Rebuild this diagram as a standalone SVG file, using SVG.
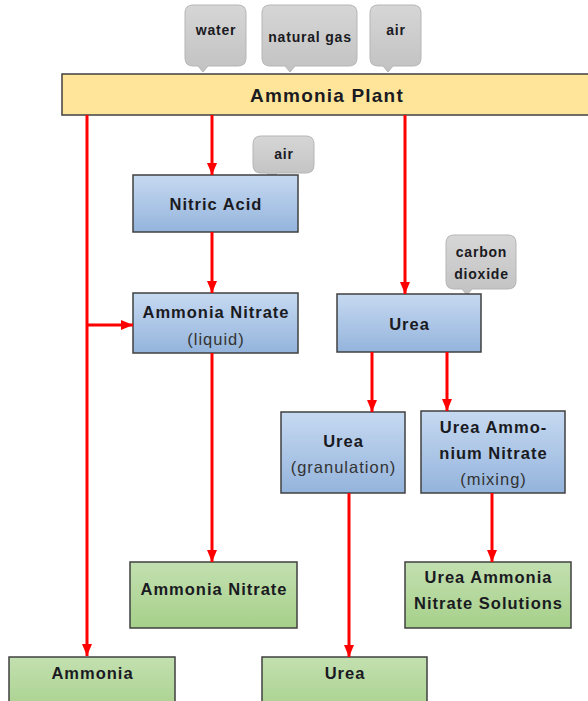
<svg xmlns="http://www.w3.org/2000/svg" width="588" height="701" viewBox="0 0 588 701">
<defs>
<linearGradient id="gBlue" x1="0" y1="0" x2="0" y2="1"><stop offset="0" stop-color="#c6d9f1"/><stop offset="1" stop-color="#94b4dc"/></linearGradient>
<linearGradient id="gGreen" x1="0" y1="0" x2="0" y2="1"><stop offset="0" stop-color="#c3e0b0"/><stop offset="1" stop-color="#a6d08a"/></linearGradient>
<linearGradient id="gGray" x1="0" y1="0" x2="0" y2="1"><stop offset="0" stop-color="#d6d6d6"/><stop offset="1" stop-color="#c2c2c2"/></linearGradient>
<marker id="arr" viewBox="0 0 12 10" refX="12" refY="5" markerWidth="12" markerHeight="10" markerUnits="userSpaceOnUse" orient="auto"><path d="M0,0 L12,5 L0,10 z" fill="#ff0000"/></marker>
</defs>
<style>
text{font-family:"Liberation Sans",Arial,sans-serif;font-weight:bold;fill:#1a1a22;text-anchor:middle;}
.t{font-size:16.5px;letter-spacing:1px;}
.s{font-size:16.5px;letter-spacing:1px;font-weight:normal;fill:#333;}
.c{font-size:14px;letter-spacing:0.8px;}
.blue{fill:url(#gBlue);stroke:#404040;stroke-width:1.5;}
.green{fill:url(#gGreen);stroke:#404040;stroke-width:1.5;}
.call{fill:url(#gGray);stroke:#b5b5b5;stroke-width:1;}
.con line{stroke:#ff0000;stroke-width:3;marker-end:url(#arr);}
</style>
<rect width="588" height="701" fill="#ffffff"/>

<g id="callout-water"><path class="call" d="M193,5 H238 Q246,5 246,13 V58 Q246,66 238,66 H208 L203,72 L198,66 H193 Q185,66 185,58 V13 Q185,5 193,5 Z"/><text class="c" x="216" y="35">water</text></g>
<g id="callout-gas"><path class="call" d="M270,5 H349 Q357,5 357,13 V58 Q357,66 349,66 H295 L290,72 L285,66 H270 Q262,66 262,58 V13 Q262,5 270,5 Z"/><text class="c" x="310" y="42">natural gas</text></g>
<g id="callout-air1"><path class="call" d="M378,5 H413 Q421,5 421,13 V58 Q421,66 413,66 H393 L388,72 L383,66 H378 Q370,66 370,58 V13 Q370,5 378,5 Z"/><text class="c" x="396" y="35">air</text></g>

<g id="ammonia-plant"><rect x="62" y="74" width="540" height="41" fill="#fee599" stroke="#404040" stroke-width="1.5"/><text x="327" y="102" style="font-size:19px;letter-spacing:1.2px">Ammonia Plant</text></g>

<g id="callout-air2"><path class="call" d="M261,136 H306 Q314,136 314,144 V165 Q314,173 306,173 H277 L272,178 L267,173 H261 Q253,173 253,165 V144 Q253,136 261,136 Z"/><text class="c" x="284" y="159">air</text></g>
<g id="callout-co2"><path class="call" d="M454,235 H508 Q516,235 516,243 V281 Q516,289 508,289 H472 L467,295 L462,289 H454 Q446,289 446,281 V243 Q446,235 454,235 Z"/><text class="c" x="481.5" y="257">carbon</text><text class="c" x="481.5" y="279">dioxide</text></g>

<g id="nitric-acid"><rect class="blue" x="133" y="175" width="165" height="57"/><text class="t" x="216" y="210">Nitric Acid</text></g>
<g id="ammonia-nitrate-liquid"><rect class="blue" x="133" y="293" width="165" height="60"/><text class="t" x="216" y="318">Ammonia Nitrate</text><text class="s" x="216" y="345">(liquid)</text></g>
<g id="urea"><rect class="blue" x="337" y="294" width="144" height="58"/><text class="t" x="409.5" y="330">Urea</text></g>
<g id="urea-granulation"><rect class="blue" x="281" y="412" width="124" height="81"/><text class="t" x="343.5" y="447">Urea</text><text class="s" x="343.5" y="473">(granulation)</text></g>
<g id="uan-mixing"><rect class="blue" x="421" y="411" width="144" height="82"/><text class="t" x="493.5" y="433">Urea Ammo-</text><text class="t" x="493.5" y="459">nium Nitrate</text><text class="s" x="493.5" y="485">(mixing)</text></g>

<g id="ammonia-nitrate"><rect class="green" x="130" y="562" width="167" height="66"/><text class="t" x="214" y="595">Ammonia Nitrate</text></g>
<g id="uan-solutions"><rect class="green" x="405" y="562" width="166" height="66"/><text class="t" x="488.5" y="583">Urea Ammonia</text><text class="t" x="488.5" y="609">Nitrate Solutions</text></g>
<g id="ammonia"><rect class="green" x="9" y="657" width="166" height="60"/><text class="t" x="92.5" y="679">Ammonia</text></g>
<g id="urea-product"><rect class="green" x="262" y="657" width="165" height="60"/><text class="t" x="345" y="679">Urea</text></g>

<g id="connectors" class="con">
<line x1="87" y1="115" x2="87" y2="656"/>
<line x1="86" y1="325" x2="133" y2="325"/>
<line x1="212" y1="115" x2="212" y2="175"/>
<line x1="212" y1="232" x2="212" y2="293"/>
<line x1="212" y1="353" x2="212" y2="562"/>
<line x1="405" y1="115" x2="405" y2="294"/>
<line x1="372" y1="352" x2="372" y2="412"/>
<line x1="447" y1="352" x2="447" y2="411"/>
<line x1="349" y1="493" x2="349" y2="657"/>
<line x1="492" y1="493" x2="492" y2="562"/>
</g>
</svg>
